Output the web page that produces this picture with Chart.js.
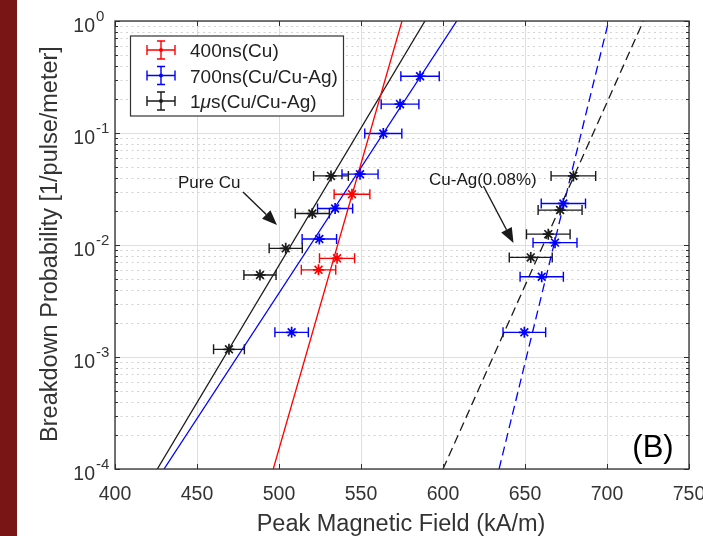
<!DOCTYPE html>
<html><head><meta charset="utf-8">
<script src="https://cdn.jsdelivr.net/npm/chart.js@4/dist/chart.umd.min.js"></script>
<style>html,body{margin:0;padding:0;background:#fff;overflow:hidden}canvas{display:block}</style>
</head><body><canvas id="c" width="703" height="536"></canvas>
<script>
// ---- data ----
const xTicks = [400, 450, 500, 550, 600, 650, 700, 750];
const yTicks = [1e-4, 1e-3, 1e-2, 1e-1, 1];
const yTickExp = ['-4', '-3', '-2', '-1', '0'];

const fieldRed = [524.1, 535.4, 544.5];
const probRed  = [0.0060, 0.0076, 0.0284];
const errRed   = [10.5, 10.7, 10.9];

const fieldBlue = [507.7, 524.6, 534.2, 549.4, 563.6, 573.8, 586.0, 649.6, 660.2, 668.3, 673.4];
const probBlue  = [0.00166, 0.0113, 0.0212, 0.0429, 0.099, 0.181, 0.321, 0.00166, 0.0052, 0.0105, 0.0235];
const errBlue   = [10.2, 10.5, 10.7, 11.0, 11.3, 11.5, 11.7, 13.0, 13.2, 13.4, 13.5];

const fieldBlack = [469.5, 488.4, 504.1, 520.3, 531.7, 653.5, 664.2, 671.4, 679.5];
const probBlack  = [0.00117, 0.0054, 0.00933, 0.0191, 0.0414, 0.00775, 0.0125, 0.0205, 0.0414];
const errBlack   = [9.4, 9.8, 10.1, 10.4, 10.6, 13.1, 13.3, 13.4, 13.6];

const fitProb = [1e-4, 1];
const fitRedField        = [496.5, 575.0];
const fitBlackField      = [425.8, 589.0];
const fitBlueField       = [429.9, 608.4];
const fitBlackAgField    = [600.0, 722.2];
const fitBlueAgField     = [634.2, 701.0];

const legendLabels = ['400ns(Cu)', '700ns(Cu/Cu-Ag)', '1μs(Cu/Cu-Ag)'];
const xTitle = 'Peak Magnetic Field (kA/m)';
const yTitle = 'Breakdown Probability [1/pulse/meter]';

const RED = '#ff0000', BLUE = '#0000ff', BLACK = '#1a1a1a';
const FONT = '"Liberation Sans", Arial, sans-serif';

function pts(xs, ys) { return xs.map((x, i) => ({x: x, y: ys[i]})); }
function ptDs(label, xs, ys, err, color) {
  return {label, data: pts(xs, ys), errX: err, showLine: false, pointStyle: 'star',
    pointRadius: 5.5, borderColor: color, backgroundColor: color, borderWidth: 1.7, order: 1};
}
function fitDs(xs, color, dash) {
  return {type: 'line', data: pts(xs, fitProb), isFit: true, borderColor: color, borderWidth: 1.3,
    borderDash: dash || [], pointRadius: 0, fill: false, tension: 0, order: 2};
}

const custom = {
  id: 'custom',
  beforeDraw(chart) {
    const c = chart.ctx;
    c.save();
    c.fillStyle = '#fff'; c.fillRect(0, 0, chart.width, chart.height);
    c.fillStyle = '#7a1515'; c.fillRect(0, 0, 17, chart.height);
    c.restore();
  },
  beforeDatasetsDraw(chart) {
    const c = chart.ctx, a = chart.chartArea, xs = chart.scales.x, ys = chart.scales.y;
    c.save();
    // minor dotted gridlines
    c.strokeStyle = '#d2d2d2'; c.lineWidth = 1; c.setLineDash([2, 3.5]);
    for (let k = -4; k < 0; k++) for (let m = 2; m <= 9; m++) {
      const y = Math.round(ys.getPixelForValue(m * Math.pow(10, k))) + 0.5;
      c.beginPath(); c.moveTo(a.left, y); c.lineTo(a.right, y); c.stroke();
    }
    c.setLineDash([]);
    // horizontal error bars
    chart.data.datasets.forEach((ds) => {
      if (!ds.errX) return;
      c.strokeStyle = ds.borderColor; c.lineWidth = 1.4;
      ds.data.forEach((p, i) => {
        const x1 = xs.getPixelForValue(p.x - ds.errX[i]);
        const x2 = xs.getPixelForValue(p.x + ds.errX[i]);
        const y = ys.getPixelForValue(p.y);
        c.beginPath();
        c.moveTo(x1, y); c.lineTo(x2, y);
        c.moveTo(x1, y - 5); c.lineTo(x1, y + 5);
        c.moveTo(x2, y - 5); c.lineTo(x2, y + 5);
        c.stroke();
      });
    });
    c.restore();
  },
  afterDraw(chart) {
    const c = chart.ctx, a = chart.chartArea, xs = chart.scales.x, ys = chart.scales.y;
    c.save();
    // box
    c.strokeStyle = '#2e2e2e'; c.lineWidth = 1.3;
    c.strokeRect(a.left, a.top, a.right - a.left, a.bottom - a.top);
    // inward ticks
    c.lineWidth = 1;
    c.beginPath();
    xTicks.forEach(v => {
      const x = Math.round(xs.getPixelForValue(v)) + 0.5;
      c.moveTo(x, a.bottom); c.lineTo(x, a.bottom - 5);
      c.moveTo(x, a.top); c.lineTo(x, a.top + 5);
    });
    yTicks.forEach(v => {
      const y = Math.round(ys.getPixelForValue(v)) + 0.5;
      c.moveTo(a.left, y); c.lineTo(a.left + 5, y);
      c.moveTo(a.right, y); c.lineTo(a.right - 5, y);
    });
    for (let k = -4; k < 0; k++) for (let m = 2; m <= 9; m++) {
      const y = Math.round(ys.getPixelForValue(m * Math.pow(10, k))) + 0.5;
      c.moveTo(a.left, y); c.lineTo(a.left + 3, y);
      c.moveTo(a.right, y); c.lineTo(a.right - 3, y);
    }
    c.stroke();
    // x tick labels
    c.fillStyle = '#333';
    c.font = '19.5px ' + FONT; c.textAlign = 'center'; c.textBaseline = 'alphabetic';
    xTicks.forEach(v => c.fillText(String(v), xs.getPixelForValue(v), 499.5));
    // y tick labels 10^k
    yTicks.forEach((v, i) => {
      const y = ys.getPixelForValue(v);
      c.font = '19.5px ' + FONT; c.textAlign = 'right';
      c.fillText('10', 95, y + 11);
      c.font = '15px ' + FONT; c.textAlign = 'left';
      c.fillText(yTickExp[i], 96, y - 0.5);
    });
    // axis titles
    c.font = '23.5px ' + FONT; c.textAlign = 'center';
    c.fillText(xTitle, 401, 531);
    c.save(); c.translate(56.5, 244); c.rotate(-Math.PI / 2);
    c.fillText(yTitle, 0, 0); c.restore();
    // legend
    c.fillStyle = '#fff'; c.fillRect(130, 36, 213, 80);
    c.strokeStyle = '#333'; c.lineWidth = 1.2; c.strokeRect(130.5, 36, 213, 80);
    const rows = [50, 75.5, 101], cols = [RED, BLUE, BLACK];
    rows.forEach((r, i) => {
      c.strokeStyle = cols[i]; c.fillStyle = cols[i]; c.lineWidth = 1.4;
      const cx = 161;
      c.beginPath();
      c.moveTo(cx - 14, r); c.lineTo(cx + 14, r);
      c.moveTo(cx - 14, r - 5); c.lineTo(cx - 14, r + 5);
      c.moveTo(cx + 14, r - 5); c.lineTo(cx + 14, r + 5);
      c.moveTo(cx, r - 9); c.lineTo(cx, r + 9);
      c.moveTo(cx - 4, r - 9); c.lineTo(cx + 4, r - 9);
      c.moveTo(cx - 4, r + 9); c.lineTo(cx + 4, r + 9);
      c.stroke();
      c.beginPath(); c.arc(cx, r, 2, 0, Math.PI * 2); c.fill();
      c.fillStyle = '#222'; c.textAlign = 'left'; c.font = '19px ' + FONT;
      const lab = legendLabels[i];
      if (lab.indexOf('μ') >= 0) {
        const parts = lab.split('μ');
        let x = 190;
        c.fillText(parts[0], x, r + 7); x += c.measureText(parts[0]).width;
        c.font = 'italic 19px ' + FONT; c.fillText('μ', x, r + 7); x += c.measureText('μ').width;
        c.font = '19px ' + FONT; c.fillText(parts[1], x, r + 7);
      } else c.fillText(lab, 190, r + 7);
    });
    // annotations
    c.fillStyle = '#1a1a1a'; c.font = '17px ' + FONT; c.textAlign = 'left';
    c.fillText('Pure Cu', 178, 187.5);
    c.fillText('Cu-Ag(0.08%)', 429, 184.5);
    arrow(c, 243, 192, 277, 225);
    arrow(c, 483.5, 186, 513.5, 243);
    // (B)
    c.fillStyle = '#000'; c.font = '31px ' + FONT; c.textAlign = 'center';
    c.fillText('(B)', 653, 456.5);
    c.restore();
  }
};
function arrow(c, x1, y1, x2, y2) {
  const ang = Math.atan2(y2 - y1, x2 - x1), L = 15, W = 6;
  const bx = x2 - L * Math.cos(ang), by = y2 - L * Math.sin(ang);
  c.strokeStyle = '#1a1a1a'; c.lineWidth = 1.4;
  c.beginPath(); c.moveTo(x1, y1); c.lineTo(bx, by); c.stroke();
  c.beginPath(); c.moveTo(x2, y2);
  c.lineTo(bx + W * Math.sin(ang), by - W * Math.cos(ang));
  c.lineTo(bx - W * Math.sin(ang), by + W * Math.cos(ang));
  c.closePath(); c.fill();
}

new Chart(document.getElementById('c'), {
  type: 'scatter',
  data: {datasets: [
    fitDs(fitRedField, RED), fitDs(fitBlackField, BLACK), fitDs(fitBlueField, BLUE),
    fitDs(fitBlackAgField, BLACK, [9, 5]), fitDs(fitBlueAgField, BLUE, [9, 5]),
    ptDs(legendLabels[0], fieldRed, probRed, errRed, RED),
    ptDs(legendLabels[1], fieldBlue, probBlue, errBlue, BLUE),
    ptDs(legendLabels[2], fieldBlack, probBlack, errBlack, BLACK)
  ]},
  options: {
    responsive: false, devicePixelRatio: 1, animation: false,
    layout: {padding: {left: 115, top: 21, right: 14, bottom: 67}},
    plugins: {legend: {display: false}, tooltip: {enabled: false}},
    scales: {
      x: {type: 'linear', min: 400, max: 750,
        afterBuildTicks: s => { s.ticks = xTicks.map(v => ({value: v})); },
        afterFit: s => { s.height = 0; },
        ticks: {display: false}, border: {display: false},
        grid: {color: '#dedede', lineWidth: 1, drawTicks: false}},
      y: {type: 'logarithmic', min: 1e-4, max: 1,
        afterBuildTicks: s => { s.ticks = yTicks.map(v => ({value: v, major: true})); },
        afterFit: s => { s.width = 0; },
        ticks: {display: false}, border: {display: false},
        grid: {color: '#dedede', lineWidth: 1, drawTicks: false}}
    }
  },
  plugins: [custom]
});
</script></body></html>
